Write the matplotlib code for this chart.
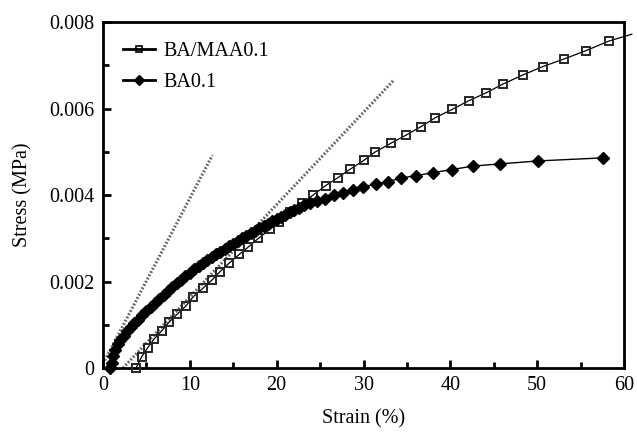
import matplotlib
matplotlib.use('Agg')
import matplotlib.pyplot as plt
from matplotlib.ticker import MultipleLocator, FuncFormatter

plt.rcParams['font.family'] = ['Liberation Serif', 'DejaVu Serif']
plt.rcParams['font.size'] = 14.5

# BA/MAA0.1 (open squares), strain in %, stress in MPa (x1e-3)
maa_strain = [3.8, 4.45, 5.15, 5.87, 6.76, 7.6, 8.56, 9.52, 10.4, 11.48, 12.52,
              13.48, 14.55, 15.7, 16.74, 17.9, 19.24, 20.3, 21.5, 22.9, 24.2,
              25.65, 27.03, 28.48, 30.02, 31.29, 33.17, 34.94, 36.59, 38.28,
              40.2, 42.11, 44.07, 46.1, 48.37, 50.64, 53.13, 55.63, 58.24]
maa_stress = [0.00, 0.26, 0.47, 0.67, 0.86, 1.06, 1.25, 1.43, 1.65, 1.84, 2.03,
              2.23, 2.43, 2.63, 2.80, 3.00, 3.21, 3.38, 3.61, 3.81, 4.00,
              4.22, 4.40, 4.60, 4.80, 4.99, 5.20, 5.39, 5.58, 5.79,
              5.98, 6.18, 6.36, 6.57, 6.78, 6.97, 7.15, 7.34, 7.56]
# the thin line through the squares runs a bit past the frame
maa_end_x = 60.9
maa_end_y = 7.72

# BA0.1 (filled diamonds)
ba_strain = [0.8, 1.0, 1.2, 1.4, 1.7, 2.0, 2.4, 2.8, 3.2, 3.6, 4.0, 4.5, 5.0,
             5.5, 6.0, 6.5, 7.0, 7.5, 8.0, 8.5, 9.0, 9.5, 10.0, 10.5, 11.0,
             11.5, 12.0, 12.5, 13.0, 13.5, 14.0, 14.5, 15.0, 15.5, 16.0, 16.5,
             17.0, 17.5, 18.0, 18.5, 19.0, 19.5, 20.0, 20.5, 21.0, 21.5, 22.0,
             22.6, 23.2, 23.8, 24.6, 25.57, 26.6, 27.68, 28.76, 29.98, 31.44,
             32.79, 34.28, 36.05, 38.04, 40.2, 42.58, 45.7, 50.14, 57.55]
ba_stress = [0.0, 0.12, 0.28, 0.42, 0.55, 0.65, 0.75, 0.85, 0.95, 1.04, 1.12,
             1.22, 1.32, 1.42, 1.51, 1.60, 1.69, 1.78, 1.87, 1.96, 2.04, 2.12,
             2.20, 2.28, 2.36, 2.43, 2.50, 2.57, 2.63, 2.69, 2.76, 2.82, 2.88,
             2.94, 3.00, 3.06, 3.12, 3.17, 3.23, 3.29, 3.34, 3.40, 3.45, 3.50,
             3.55, 3.60, 3.65, 3.71, 3.77, 3.82, 3.87, 3.91, 4.00, 4.05, 4.12,
             4.19, 4.26, 4.31, 4.39, 4.45, 4.52, 4.59, 4.67, 4.72, 4.79, 4.86]

# dotted tangent lines
tan1_x = [0.0, 12.6]
tan1_y = [0.10, 4.92]
tan2_x = [2.3, 33.5]
tan2_y = [0.0, 6.66]

fig = plt.figure(figsize=(6.37, 4.33), dpi=100)
ax = fig.add_axes([0.1617, 0.150, 0.8179, 0.799])

s = 1e-3
ax.plot(tan1_x, [v * s for v in tan1_y], color='0.4', lw=2.2, ls=(0, (0.6, 0.6)), zorder=2)
ax.plot(tan2_x, [v * s for v in tan2_y], color='0.4', lw=2.2, ls=(0, (0.6, 0.6)), zorder=2)

ax.plot(maa_strain + [maa_end_x], [v * s for v in maa_stress + [maa_end_y]],
        color='k', lw=0.9, clip_on=False, zorder=3)
ax.plot(maa_strain, [v * s for v in maa_stress], ls='none', marker='s', ms=6.3,
        mfc='none', mec='0.15', mew=1.4, clip_on=False, zorder=4)
ax.plot(ba_strain, [v * s for v in ba_stress], color='k', lw=1.0, marker='D', ms=6.5,
        mfc='k', mec='k', clip_on=False, zorder=4)

# legend handles
ax.plot([], [], color='k', lw=2, marker='s', ms=5, mfc='none', mec='k', mew=1.2, label='BA/MAA0.1')
ax.plot([], [], color='k', lw=2, marker='D', ms=5, mfc='k', mec='k', label='BA0.1')
handles, labels = ax.get_legend_handles_labels()
ax.legend(handles[-2:], labels[-2:], loc='upper left', frameon=False, handlelength=1.6,
          handletextpad=0.4, labelspacing=0.6, borderaxespad=0.6, fontsize=14.5)

ax.set_xlim(0, 60)
ax.set_ylim(0, 0.008)
ax.xaxis.set_major_locator(MultipleLocator(10))
ax.xaxis.set_minor_locator(MultipleLocator(5))
ax.yaxis.set_major_locator(MultipleLocator(0.002))
ax.yaxis.set_minor_locator(MultipleLocator(0.001))
ax.yaxis.set_major_formatter(FuncFormatter(lambda v, p: '0' if abs(v) < 1e-12 else '%.3f' % v))
ax.tick_params(which='both', direction='in', top=False, right=False, width=2, labelsize=14.5)
ax.tick_params(which='major', length=6, pad=6)
ax.tick_params(which='minor', length=4)
for sp in ax.spines.values():
    sp.set_linewidth(2)

ax.set_xlabel('Strain (%)', labelpad=10)
ax.set_ylabel('Stress (MPa)', labelpad=12)

fig.savefig('out.png', dpi=100)
